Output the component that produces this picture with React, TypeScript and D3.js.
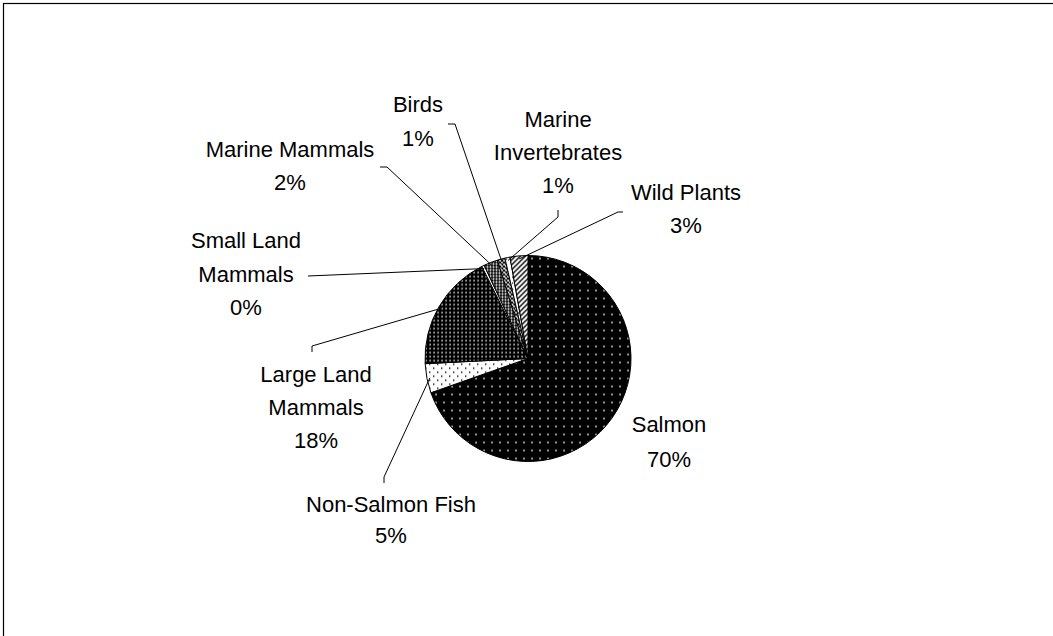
import React from "react";
import * as d3 from "d3";

// ---- data ----
const categories = [
  "Salmon",
  "Non-Salmon Fish",
  "Large Land Mammals",
  "Small Land Mammals",
  "Marine Mammals",
  "Birds",
  "Marine Invertebrates",
  "Wild Plants",
];
const shares = [69.6, 4.6, 18.4, 0.4, 2.2, 1.2, 0.8, 2.8];
const labelLines = [
  ["Salmon"],
  ["Non-Salmon Fish"],
  ["Large Land", "Mammals"],
  ["Small Land", "Mammals"],
  ["Marine Mammals"],
  ["Birds"],
  ["Marine", "Invertebrates"],
  ["Wild Plants"],
];

// ---- layout (positions of labels and leader elbows) ----
const labelLayout = [
  { cx: 669, y0: 432, lh: 35, leader: [] as number[][] },
  { cx: 391, y0: 512, lh: 31, leader: [[384, 483], [384, 477]] },
  { cx: 316, y0: 382, lh: 33, leader: [[312, 352], [312, 346]] },
  { cx: 246, y0: 248, lh: 33.5, leader: [[308, 276]] },
  { cx: 290, y0: 157, lh: 33, leader: [[380, 167], [387, 167]] },
  { cx: 418, y0: 112, lh: 34, leader: [[448, 124], [455, 124]] },
  { cx: 558, y0: 127, lh: 33, leader: [[558, 210], [558, 217]] },
  { cx: 686, y0: 200, lh: 33, leader: [[623, 212], [618, 212]] },
];

const W = 1053;
const H = 636;
const CX = 528;
const CY = 358.5;
const R = 103;

export default function App() {
  const total = d3.sum(shares);
  const pie = d3
    .pie<number>()
    .sort(null)
    .value((d) => d)
    .startAngle(0)
    .endAngle(2 * Math.PI);
  const arcs = pie(shares);
  const arc = d3.arc<d3.PieArcDatum<number>>().innerRadius(0).outerRadius(R);

  const font = "'Liberation Sans', Arial, sans-serif";

  return (
    <svg
      width={W}
      height={H}
      style={{ position: "absolute", left: 0, top: 0, background: "#fff" }}
    >
      <defs>
        <pattern id="p0" width={8} height={8} patternUnits="userSpaceOnUse">
          <rect width={8} height={8} fill="#000" />
          <rect x={3.3} y={3.3} width={1.5} height={1.5} fill="#fff" />
        </pattern>
        <pattern id="p1" width={8} height={8} patternUnits="userSpaceOnUse">
          <rect width={8} height={8} fill="#fff" />
          <rect x={1} y={1} width={1.4} height={1.4} fill="#000" />
          <rect x={5} y={5} width={1.4} height={1.4} fill="#000" />
        </pattern>
        <pattern id="p2" width={4} height={4} patternUnits="userSpaceOnUse">
          <rect width={4} height={4} fill="#000" />
          <rect x={1.4} y={1.4} width={1.4} height={1.4} fill="#fff" />
        </pattern>
        <pattern id="p3" width={4} height={4} patternUnits="userSpaceOnUse">
          <rect width={4} height={4} fill="#fff" />
        </pattern>
        <pattern id="p4" width={3} height={3} patternUnits="userSpaceOnUse">
          <rect width={3} height={3} fill="#000" />
          <circle cx={1.5} cy={1.5} r={1.05} fill="#fff" />
        </pattern>
        <pattern id="p5" width={4} height={4} patternUnits="userSpaceOnUse">
          <rect width={4} height={4} fill="#fff" />
          <path d="M0,0L4,4M4,0L0,4" stroke="#000" strokeWidth={1.1} />
        </pattern>
        <pattern id="p6" width={6} height={6} patternUnits="userSpaceOnUse">
          <rect width={6} height={6} fill="#fff" />
          <rect x={2} y={2} width={1.2} height={1.2} fill="#000" />
        </pattern>
        <pattern id="p7" width={5} height={5} patternUnits="userSpaceOnUse">
          <rect width={5} height={5} fill="#fff" />
          <path
            d="M0,5L5,0M-1,1L1,-1M4,6L6,4"
            stroke="#000"
            strokeWidth={1.4}
          />
        </pattern>
      </defs>

      <rect
        x={3.5}
        y={3.5}
        width={1200}
        height={800}
        fill="none"
        stroke="#000"
        strokeWidth={1.2}
      />

      <g transform={`translate(${CX},${CY})`}>
        {arcs.map((a, i) => (
          <path
            key={categories[i]}
            d={arc(a) || ""}
            fill={`url(#p${i})`}
            stroke="#000"
            strokeWidth={1}
          />
        ))}
      </g>

      {arcs.map((a, i) => {
        const lay = labelLayout[i];
        if (!lay.leader.length) return null;
        const mid = (a.startAngle + a.endAngle) / 2;
        const px = CX + (R - 3) * Math.sin(mid);
        const py = CY - (R - 3) * Math.cos(mid);
        const pts = [...lay.leader, [px, py]].map((p) => p.join(",")).join(" ");
        return (
          <polyline
            key={"l" + i}
            points={pts}
            fill="none"
            stroke="#000"
            strokeWidth={1}
          />
        );
      })}

      {labelLines.map((lines, i) => {
        const lay = labelLayout[i];
        const pct = Math.round((shares[i] / total) * 100) + "%";
        const all = [...lines, pct];
        return (
          <text
            key={"t" + i}
            fontFamily={font}
            fontSize={22}
            fill="#000"
            textAnchor="middle"
          >
            {all.map((s, j) => (
              <tspan key={j} x={lay.cx} y={lay.y0 + j * lay.lh}>
                {s}
              </tspan>
            ))}
          </text>
        );
      })}
    </svg>
  );
}
